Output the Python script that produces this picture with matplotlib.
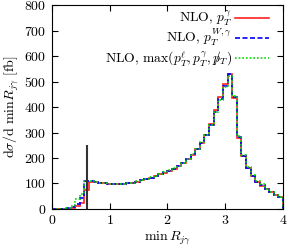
import numpy as np
import matplotlib
matplotlib.use("Agg")
import matplotlib.pyplot as plt

plt.rcParams['font.family'] = 'cmr10'
plt.rcParams['mathtext.fontset'] = 'cm'
plt.rcParams['axes.formatter.use_mathtext'] = True
plt.rcParams['axes.unicode_minus'] = False

# bin edges in min R_jgamma (width 0.08)
edges = np.linspace(0.0, 4.0, 51)

# d sigma / d min R [fb]
nlo_pt_gamma = [0, 0, 0, 1, 4, 10, 25, 75, 107, 105,
                102, 100, 98, 97, 97, 98, 100, 103, 107, 112,
                117, 123, 130, 137, 143, 150, 158, 167, 180, 196,
                213, 236, 260, 292, 332, 388, 440, 492, 530, 437,
                280, 207, 160, 130, 105, 90, 77, 65, 55, 47]
nlo_pt_wgamma = [0, 0, 0, 2, 6, 18, 42, 108, 110, 106,
                 102, 100, 98, 97, 97, 98, 100, 103, 107, 112,
                 118, 123, 130, 137, 144, 150, 158, 168, 180, 196,
                 214, 236, 260, 290, 330, 382, 430, 483, 528, 440,
                 282, 208, 160, 131, 106, 92, 78, 65, 55, 47]
nlo_pt_max = [0, 0, 0, 3, 12, 38, 60, 110, 110, 107,
              103, 100, 98, 97, 97, 98, 100, 103, 108, 112,
              118, 124, 131, 138, 144, 151, 159, 168, 181, 197,
              214, 237, 261, 290, 330, 380, 428, 480, 522, 445,
              285, 210, 163, 133, 108, 97, 80, 67, 56, 48]

labels = [r'NLO, $p_T^{\gamma}$',
          r'NLO, $p_T^{W,\gamma}$',
          r'NLO, max$(p_T^{\ell}, p_T^{\gamma}, p\!\!\!/_T)$']
colors = ['#ff2020', '#0000ff', '#00dd00']
styles = ['-', (0, (3, 1.5)), (0, (1, 1.2))]

spike_x = 0.6
spike_top = 250

fig = plt.figure(figsize=(2.9, 2.49), dpi=100)
ax = fig.add_axes([0.179, 0.161, 0.797, 0.818])

ax.vlines(spike_x, 0, spike_top, color='#333333', lw=1.5)
for vals, c, s in zip([nlo_pt_gamma, nlo_pt_wgamma, nlo_pt_max], colors, styles):
    ax.stairs(vals, edges, color=c, lw=1.2, ls=s)

# gnuplot-style key: text right-aligned, sample line to its right
for i, (lab, c, s) in enumerate(zip(labels, colors, styles)):
    y_line = 0.935 - 0.098 * i
    ax.text(0.779, y_line - 0.018, lab, transform=ax.transAxes, ha='right',
            va='baseline', fontsize=9.8)
    ax.plot([0.792, 0.939], [y_line, y_line], transform=ax.transAxes,
            color=c, lw=1.2, ls=s)

ax.set_xlim(0, 4)
ax.set_ylim(0, 800)
ax.set_xticks([0, 1, 2, 3, 4])
ax.set_yticks(np.arange(0, 801, 100))
ax.tick_params(direction='in', top=True, right=True, labelsize=10, length=4, pad=4)
ax.set_xlabel(r'$\min\, R_{j\gamma}$', fontsize=10, labelpad=2)
ax.set_ylabel(r'$\mathrm{d}\sigma/\mathrm{d}\ \min R_{j\gamma}$ [fb]', fontsize=10, labelpad=2)

fig.savefig('out.png', dpi=100)
